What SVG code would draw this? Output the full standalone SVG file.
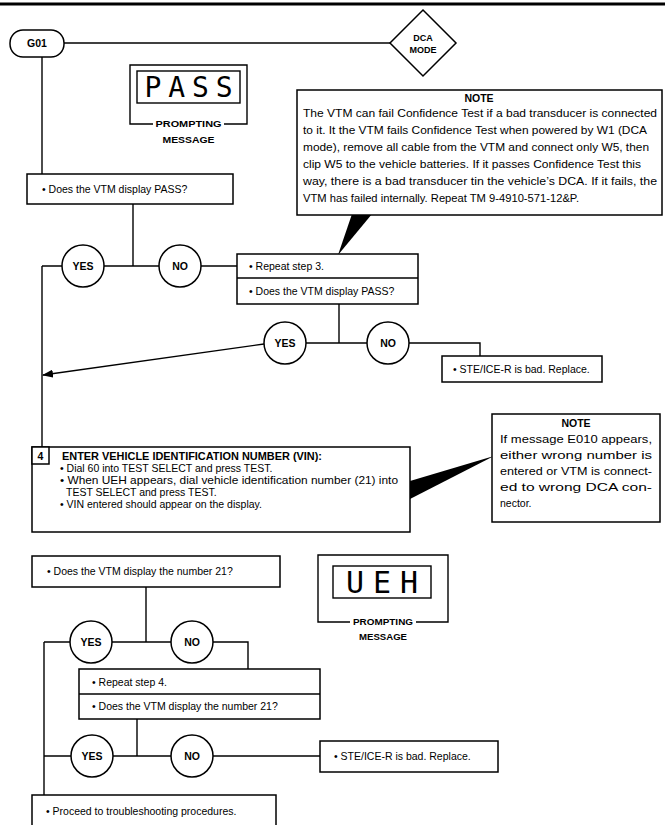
<svg xmlns="http://www.w3.org/2000/svg" width="665" height="825" viewBox="0 0 665 825">
<defs>
<marker id="arr" markerWidth="11" markerHeight="8" refX="10" refY="4" orient="auto" markerUnits="userSpaceOnUse">
<path d="M0,0 L11,4 L0,8 Z" fill="#000"/>
</marker>
</defs>
<style>
.t{font-family:"Liberation Sans",Arial,sans-serif;font-size:10.5px;fill:#000}
.b{font-weight:bold}
.c{text-anchor:middle}
.s{font-size:9px}
.box{fill:#fff;stroke:#000;stroke-width:1.5}
.ln{fill:none;stroke:#000;stroke-width:1.4}
.seg{font-family:"DejaVu Sans Mono",monospace;font-size:28px;fill:#000;text-anchor:middle}
</style>
<rect width="665" height="825" fill="#fff"/>
<line x1="0" y1="4" x2="665" y2="4" stroke="#000" stroke-width="3"/>

<g id="connectors">
<line class="ln" x1="64" y1="43" x2="390" y2="43"/>
<line class="ln" x1="42" y1="56" x2="42" y2="174"/>
<line class="ln" x1="133" y1="204" x2="133" y2="266"/>
<line class="ln" x1="42" y1="266" x2="237" y2="266"/>
<line class="ln" x1="42" y1="266" x2="42" y2="447"/>
<line class="ln" x1="339" y1="304" x2="339" y2="343"/>
<line class="ln" x1="306" y1="343" x2="367" y2="343"/>
<polyline class="ln" points="409,343 480,343 480,356"/>
<line class="ln" x1="264" y1="344" x2="43" y2="375" marker-end="url(#arr)"/>
<line class="ln" x1="146" y1="587" x2="146" y2="642"/>
<line class="ln" x1="44" y1="642" x2="213" y2="642"/>
<polyline class="ln" points="213,642 248,642 248,669"/>
<line class="ln" x1="44" y1="642" x2="44" y2="795"/>
<line class="ln" x1="137" y1="719" x2="137" y2="756"/>
<line class="ln" x1="44" y1="756" x2="320" y2="756"/>
</g>

<g id="G01">
<rect class="box" x="10" y="30" width="54" height="27" rx="13"/>
<text class="t b c" x="37" y="47">G01</text>
</g>

<g id="dca-mode">
<polygon class="box" points="423,10 456,43 423,76 390,43"/>
<text class="t b c s" x="423" y="41">DCA</text>
<text class="t b c s" x="423" y="53">MODE</text>
</g>

<g id="pass-display">
<polyline class="ln" points="153,124 130,124 130,65 247,65 247,124 224,124"/>
<rect class="ln" x="137" y="71" width="103" height="32"/>
<text class="seg" x="188.5" y="97" textLength="88" lengthAdjust="spacing">PASS</text>
<text class="t b c s" x="188.5" y="127" textLength="66" lengthAdjust="spacingAndGlyphs">PROMPTING</text>
<text class="t b c s" x="188.5" y="143" textLength="52" lengthAdjust="spacingAndGlyphs">MESSAGE</text>
</g>

<g id="q-pass">
<rect class="box" x="27" y="174" width="206" height="30"/>
<text class="t" x="42" y="193">• Does the VTM display PASS?</text>
</g>

<g id="yes1">
<circle class="box" cx="83" cy="266" r="21"/>
<text class="t b c" x="83" y="270">YES</text>
</g>
<g id="no1">
<circle class="box" cx="180" cy="266" r="21"/>
<text class="t b c" x="180" y="270">NO</text>
</g>

<g id="note1">
<polygon points="352,214 372,214 338,255" fill="#000"/>
<rect class="box" x="297" y="90" width="365" height="125"/>
<text class="t b c" x="479" y="102">NOTE</text>
<text class="t" x="303" y="117" textLength="354" lengthAdjust="spacingAndGlyphs">The VTM can fail Confidence Test if a bad transducer is connected</text>
<text class="t" x="303" y="134" textLength="344" lengthAdjust="spacingAndGlyphs">to it. It the VTM fails Confidence Test when powered by W1 (DCA</text>
<text class="t" x="303" y="151" textLength="346" lengthAdjust="spacingAndGlyphs">mode), remove all cable from the VTM and connect only W5, then</text>
<text class="t" x="303" y="168" textLength="338" lengthAdjust="spacingAndGlyphs">clip W5 to the vehicle batteries. If it passes Confidence Test this</text>
<text class="t" x="303" y="185" textLength="354" lengthAdjust="spacingAndGlyphs">way, there is a bad transducer tin the vehicle’s DCA. If it fails, the</text>
<text class="t" x="303" y="202" textLength="276" lengthAdjust="spacingAndGlyphs">VTM has failed internally. Repeat TM 9-4910-571-12&amp;P.</text>
</g>

<g id="repeat3">
<rect class="box" x="237" y="254" width="181" height="50"/>
<line class="ln" x1="237" y1="278" x2="418" y2="278"/>
<text class="t" x="249" y="270">• Repeat step 3.</text>
<text class="t" x="249" y="295">• Does the VTM display PASS?</text>
</g>

<g id="yes2">
<circle class="box" cx="285" cy="343" r="21"/>
<text class="t b c" x="285" y="347">YES</text>
</g>
<g id="no2">
<circle class="box" cx="388" cy="343" r="21"/>
<text class="t b c" x="388" y="347">NO</text>
</g>

<g id="ste1">
<rect class="box" x="442" y="356" width="160" height="26"/>
<text class="t" x="453" y="373">• STE/ICE-R is bad. Replace.</text>
</g>

<g id="note2">
<polygon points="410,481 410,499 494,456" fill="#000"/>
<rect class="box" x="492" y="414" width="168" height="108"/>
<text class="t b c" x="576" y="427">NOTE</text>
<text class="t" x="500" y="443" textLength="152" lengthAdjust="spacingAndGlyphs">If message E010 appears,</text>
<text class="t" x="500" y="459" textLength="152" lengthAdjust="spacingAndGlyphs">either wrong number is</text>
<text class="t" x="500" y="475" textLength="152" lengthAdjust="spacingAndGlyphs">entered or VTM is connect-</text>
<text class="t" x="500" y="491" textLength="152" lengthAdjust="spacingAndGlyphs">ed to wrong DCA con-</text>
<text class="t" x="500" y="507">nector.</text>
</g>

<g id="step4">
<rect class="box" x="32" y="447" width="378" height="85"/>
<rect class="box" x="32" y="447" width="17" height="17"/>
<text class="t b c" x="40.5" y="460">4</text>
<text class="t b" x="62" y="460" textLength="260" lengthAdjust="spacingAndGlyphs">ENTER VEHICLE IDENTIFICATION NUMBER (VIN):</text>
<text class="t" x="60" y="472">• Dial 60 into TEST SELECT and press TEST.</text>
<text class="t" x="60" y="484" textLength="338" lengthAdjust="spacingAndGlyphs">• When UEH appears, dial vehicle identification number (21) into</text>
<text class="t" x="66" y="496">TEST SELECT and press TEST.</text>
<text class="t" x="60" y="508">• VIN entered should appear on the display.</text>
</g>

<g id="q-21">
<rect class="box" x="32" y="556" width="248" height="31"/>
<text class="t" x="47" y="575">• Does the VTM display the number 21?</text>
</g>

<g id="ueh-display">
<polyline class="ln" points="350,622 318,622 318,555 448,555 448,622 416,622"/>
<rect class="ln" x="333" y="566" width="98" height="32"/>
<text class="seg" x="382" y="593" style="font-size:30px" textLength="72" lengthAdjust="spacing">UEH</text>
<text class="t b c s" x="383" y="625" textLength="60" lengthAdjust="spacingAndGlyphs">PROMPTING</text>
<text class="t b c s" x="383" y="640" textLength="48" lengthAdjust="spacingAndGlyphs">MESSAGE</text>
</g>

<g id="yes3">
<circle class="box" cx="91" cy="642" r="21"/>
<text class="t b c" x="91" y="646">YES</text>
</g>
<g id="no3">
<circle class="box" cx="192" cy="642" r="21"/>
<text class="t b c" x="192" y="646">NO</text>
</g>

<g id="repeat4">
<rect class="box" x="79" y="669" width="241" height="50"/>
<line class="ln" x1="79" y1="694" x2="320" y2="694"/>
<text class="t" x="92" y="686">• Repeat step 4.</text>
<text class="t" x="92" y="710">• Does the VTM display the number 21?</text>
</g>

<g id="yes4">
<circle class="box" cx="92" cy="756" r="21"/>
<text class="t b c" x="92" y="760">YES</text>
</g>
<g id="no4">
<circle class="box" cx="192" cy="756" r="21"/>
<text class="t b c" x="192" y="760">NO</text>
</g>

<g id="ste2">
<rect class="box" x="320" y="741" width="178" height="31"/>
<text class="t" x="334" y="760">• STE/ICE-R is bad. Replace.</text>
</g>

<g id="proceed">
<rect class="box" x="32" y="795" width="244" height="40"/>
<text class="t" x="46" y="815">• Proceed to troubleshooting procedures.</text>
</g>
</svg>
